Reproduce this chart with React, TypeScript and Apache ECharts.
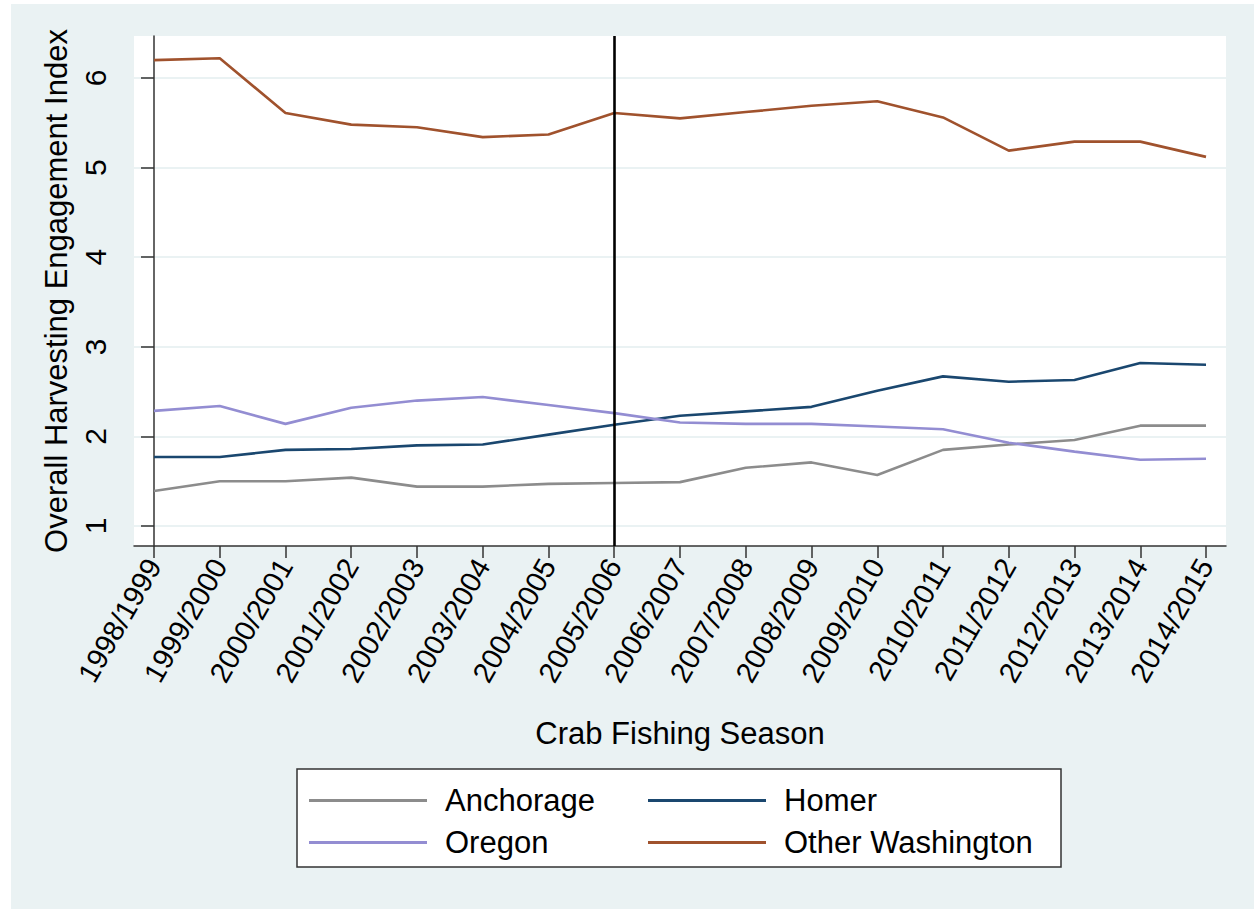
import React, { useEffect, useRef } from 'react';
import * as echarts from 'echarts';

const seasons = [
  '1998/1999', '1999/2000', '2000/2001', '2001/2002', '2002/2003', '2003/2004',
  '2004/2005', '2005/2006', '2006/2007', '2007/2008', '2008/2009', '2009/2010',
  '2010/2011', '2011/2012', '2012/2013', '2013/2014', '2014/2015',
];
const anchorage = [1.39, 1.5, 1.5, 1.54, 1.44, 1.44, 1.47, 1.48, 1.49, 1.65, 1.71, 1.57, 1.85, 1.91, 1.96, 2.12, 2.12];
const homer = [1.77, 1.77, 1.85, 1.86, 1.9, 1.91, 2.02, 2.13, 2.23, 2.28, 2.33, 2.51, 2.67, 2.61, 2.63, 2.82, 2.8];
const oregon = [2.285, 2.34, 2.14, 2.32, 2.4, 2.44, 2.35, 2.26, 2.155, 2.14, 2.14, 2.11, 2.08, 1.93, 1.83, 1.74, 1.75];
const otherWashington = [6.2, 6.22, 5.61, 5.48, 5.45, 5.34, 5.37, 5.61, 5.55, 5.62, 5.69, 5.74, 5.56, 5.19, 5.29, 5.29, 5.12];
const yTicks = [1, 2, 3, 4, 5, 6];
const referenceSeason = '2005/2006';

export default function App() {
  const ref = useRef<HTMLDivElement>(null);
  useEffect(() => {
    const chart = echarts.init(ref.current as HTMLDivElement, null, { renderer: 'svg' });
    const font = '"Liberation Sans", Arial, sans-serif';
    const xIdx = seasons.map((_, i) => i);
    const mk = (name: string, data: number[], color: string, extra: any = {}) => ({
      name,
      type: 'line',
      data: data.map((v, i) => [i, v]),
      symbol: 'none',
      lineStyle: { color, width: 2.6 },
      itemStyle: { color },
      ...extra,
    });
    const legendText = {
      fontSize: 31,
      fontFamily: font,
      color: '#000',
      lineHeight: 31,
      padding: [0, 0, 0, 13],
    };
    chart.setOption({
      animation: false,
      backgroundColor: '#eaf2f3',
      grid: {
        left: 123,
        top: 32,
        right: 28,
        bottom: 363,
        show: true,
        backgroundColor: '#ffffff',
        borderWidth: 0,
        containLabel: false,
      },
      xAxis: {
        type: 'value',
        min: -0.304,
        max: 16.304,
        name: 'Crab Fishing Season',
        nameLocation: 'middle',
        nameGap: 172,
        nameTextStyle: { fontSize: 31, fontFamily: font, color: '#000' },
        axisLine: { show: true, lineStyle: { color: '#333', width: 1.5 } },
        axisTick: { show: true, length: 12, customValues: xIdx, lineStyle: { color: '#333', width: 1.5 } },
        axisLabel: {
          customValues: xIdx,
          rotate: 60,
          margin: 15,
          fontSize: 29,
          fontFamily: font,
          color: '#000',
          formatter: (v: number) => seasons[Math.round(v)],
        },
        splitLine: { show: false },
      },
      yAxis: {
        type: 'value',
        min: 0.777,
        max: 6.469,
        name: 'Overall Harvesting Engagement Index',
        nameLocation: 'middle',
        nameGap: 50,
        nameRotate: 90,
        nameTextStyle: { fontSize: 31, fontFamily: font, color: '#000' },
        axisLine: { show: true, lineStyle: { color: '#333', width: 1.5 } },
        axisTick: { show: true, length: 13, customValues: yTicks, lineStyle: { color: '#333', width: 1.5 } },
        axisLabel: {
          customValues: yTicks,
          rotate: 90,
          margin: 24,
          fontSize: 30,
          fontFamily: font,
          color: '#000',
        },
        splitLine: { show: true, lineStyle: { color: '#eaf2f3', width: 2 } },
      },
      legend: [
        {
          data: ['Anchorage', 'Oregon'],
          orient: 'vertical',
          left: 293,
          top: 776,
          itemWidth: 118,
          itemHeight: 3,
          icon: 'rect',
          itemGap: 11,
          selectedMode: false,
          textStyle: legendText,
        },
        {
          data: ['Homer', 'Other Washington'],
          orient: 'vertical',
          left: 632,
          top: 776,
          itemWidth: 118,
          itemHeight: 3,
          icon: 'rect',
          itemGap: 11,
          selectedMode: false,
          textStyle: legendText,
        },
      ],
      graphic: [
        {
          type: 'rect',
          z: 0,
          shape: { x: 286, y: 765, width: 764, height: 98 },
          style: { fill: '#ffffff', stroke: '#333', lineWidth: 1.5 },
        },
      ],
      series: [
        mk('Anchorage', anchorage, '#8c8c8c', {
          markLine: {
            silent: true,
            symbol: ['none', 'none'],
            label: { show: false },
            lineStyle: { color: '#000', width: 2.6, type: 'solid' },
            data: [{ xAxis: seasons.indexOf(referenceSeason) }],
          },
        }),
        mk('Homer', homer, '#1a476f'),
        mk('Oregon', oregon, '#938dd2'),
        mk('Other Washington', otherWashington, '#a0522d'),
      ],
    });
    return () => chart.dispose();
  }, []);
  return (
    <div style={{ position: 'fixed', left: 0, top: 0, width: 1254, height: 909, background: '#fff' }}>
      <div ref={ref} style={{ position: 'absolute', left: 11, top: 4, width: 1243, height: 905 }} />
    </div>
  );
}
